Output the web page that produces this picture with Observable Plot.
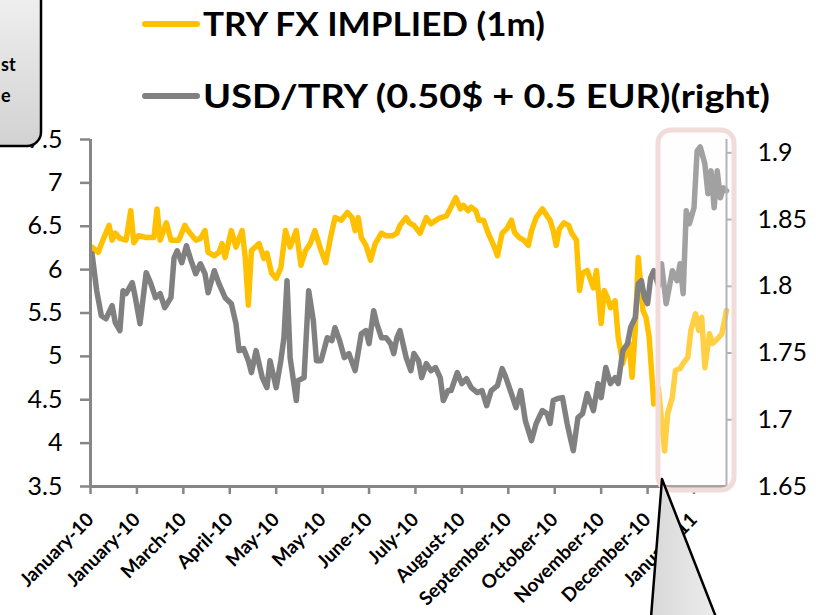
<!DOCTYPE html>
<html>
<head>
<meta charset="utf-8">
<script src="https://cdn.jsdelivr.net/npm/d3@7"></script>
<script src="https://cdn.jsdelivr.net/npm/@observablehq/plot@0.6"></script>
<style>
  body { margin: 0; background: #fff; }
  #wrap { position: relative; width: 816px; height: 615px; overflow: hidden; font-family: Lato, "Open Sans", sans-serif; }
  #chart { position: absolute; left: 0; top: 0; }
  #overlay { position: absolute; left: 0; top: 0; pointer-events: none; }
</style>
</head>
<body>
<div id="wrap">
  <div id="chart"></div>
  <svg id="overlay" width="816" height="615" xmlns="http://www.w3.org/2000/svg"></svg>
</div>
<script>
// ---------------- DATA ----------------
const seriesNames = ["TRY FX IMPLIED (1m)", "USD/TRY (0.50$ + 0.5 EUR)(right)"];

const triDates = [
  "2010-01-02","2010-01-06","2010-01-09","2010-01-13","2010-01-15","2010-01-17","2010-01-20","2010-01-24","2010-01-27","2010-01-29",
  "2010-02-01","2010-02-06","2010-02-11","2010-02-13","2010-02-15","2010-02-19","2010-02-22","2010-02-27","2010-03-03","2010-03-05",
  "2010-03-10","2010-03-13","2010-03-16","2010-03-18","2010-03-22","2010-03-25","2010-03-27","2010-03-29","2010-04-02","2010-04-05",
  "2010-04-09","2010-04-11","2010-04-13","2010-04-15","2010-04-20","2010-04-23","2010-04-25","2010-04-28","2010-05-01","2010-05-04",
  "2010-05-07","2010-05-10","2010-05-14","2010-05-17","2010-05-20","2010-05-23","2010-05-26","2010-05-30","2010-06-02","2010-06-05",
  "2010-06-08","2010-06-12","2010-06-16","2010-06-19","2010-06-21","2010-06-23","2010-06-25","2010-06-28","2010-07-01","2010-07-04",
  "2010-07-08","2010-07-11","2010-07-15","2010-07-18","2010-07-20","2010-07-24","2010-07-26","2010-07-29","2010-08-02","2010-08-06",
  "2010-08-09","2010-08-14","2010-08-19","2010-08-22","2010-08-25","2010-08-28","2010-08-30","2010-09-02","2010-09-04","2010-09-07",
  "2010-09-09","2010-09-12","2010-09-15","2010-09-19","2010-09-21","2010-09-24","2010-09-27","2010-09-30","2010-10-02","2010-10-05",
  "2010-10-08","2010-10-11","2010-10-13","2010-10-16","2010-10-20","2010-10-23","2010-10-25","2010-10-27","2010-10-29","2010-10-31",
  "2010-11-03","2010-11-06","2010-11-08","2010-11-11","2010-11-13","2010-11-15","2010-11-18","2010-11-22","2010-11-24","2010-11-27",
  "2010-11-29","2010-12-01","2010-12-03","2010-12-06","2010-12-08","2010-12-11","2010-12-13","2010-12-15","2010-12-17","2010-12-19",
  "2010-12-21","2010-12-24","2010-12-26","2010-12-28","2010-12-30","2010-12-31","2011-01-03","2011-01-07","2011-01-09","2011-01-12",
  "2011-01-14","2011-01-17","2011-01-19","2011-01-22","2011-01-24","2011-01-27","2011-01-29","2011-01-31","2011-02-02","2011-02-05",
  "2011-02-07","2011-02-09","2011-02-13","2011-02-16"
];
const triValues = [
  6.26,6.20,6.34,6.51,6.34,6.42,6.36,6.34,6.68,6.31,
  6.39,6.37,6.37,6.70,6.34,6.54,6.34,6.34,6.51,6.45,
  6.34,6.36,6.45,6.20,6.16,6.20,6.30,6.14,6.45,6.26,
  6.45,6.14,5.59,6.22,6.30,6.13,6.19,5.96,5.90,6.02,
  6.45,6.26,6.45,6.05,6.22,6.30,6.45,6.22,6.08,6.36,
  6.60,6.57,6.66,6.60,6.45,6.60,6.37,6.28,6.11,6.30,
  6.42,6.39,6.39,6.42,6.51,6.60,6.54,6.51,6.42,6.60,
  6.53,6.59,6.62,6.72,6.83,6.70,6.74,6.68,6.72,6.68,
  6.57,6.57,6.42,6.26,6.16,6.42,6.47,6.57,6.43,6.37,
  6.34,6.28,6.45,6.60,6.70,6.62,6.57,6.45,6.28,6.47,
  6.54,6.51,6.42,6.34,5.76,5.96,5.99,5.79,5.99,5.38,
  5.76,5.68,5.56,5.64,5.22,4.92,5.07,5.15,4.76,5.30,
  6.14,5.53,5.45,5.22,4.72,4.45,4.64,3.91,4.34,4.53,
  4.84,4.86,4.92,4.99,5.30,5.49,5.30,5.45,4.87,5.26,
  5.15,5.18,5.26,5.53
];

const usdDates = [
  "2010-01-02","2010-01-05","2010-01-08","2010-01-11","2010-01-15","2010-01-17","2010-01-20","2010-01-22","2010-01-24","2010-01-28",
  "2010-01-30","2010-02-02","2010-02-06","2010-02-09","2010-02-12","2010-02-15","2010-02-18","2010-02-22","2010-02-24","2010-02-26",
  "2010-03-01","2010-03-04","2010-03-07","2010-03-10","2010-03-13","2010-03-16","2010-03-18","2010-03-22","2010-03-25","2010-03-29",
  "2010-04-02","2010-04-05","2010-04-07","2010-04-10","2010-04-13","2010-04-15","2010-04-18","2010-04-22","2010-04-25","2010-04-27",
  "2010-05-01","2010-05-04","2010-05-06","2010-05-08","2010-05-10","2010-05-14","2010-05-15","2010-05-19","2010-05-22","2010-05-25",
  "2010-05-27","2010-05-30","2010-06-03","2010-06-06","2010-06-08","2010-06-11","2010-06-14","2010-06-17","2010-06-21","2010-06-25",
  "2010-06-28","2010-06-30","2010-07-03","2010-07-05","2010-07-08","2010-07-11","2010-07-14","2010-07-16","2010-07-18","2010-07-20",
  "2010-07-24","2010-07-27","2010-07-29","2010-08-01","2010-08-03","2010-08-06","2010-08-09","2010-08-12","2010-08-15","2010-08-17",
  "2010-08-20","2010-08-22","2010-08-26","2010-08-29","2010-09-01","2010-09-04","2010-09-08","2010-09-11","2010-09-14","2010-09-17",
  "2010-09-21","2010-09-24","2010-09-26","2010-09-30","2010-10-03","2010-10-06","2010-10-09","2010-10-13","2010-10-16","2010-10-20",
  "2010-10-23","2010-10-25","2010-10-27","2010-10-30","2010-11-02","2010-11-05","2010-11-07","2010-11-09","2010-11-12","2010-11-15",
  "2010-11-18","2010-11-22","2010-11-25","2010-11-27","2010-11-30","2010-12-03","2010-12-06","2010-12-08","2010-12-11","2010-12-14",
  "2010-12-16","2010-12-19","2010-12-21","2010-12-23","2010-12-25","2010-12-27","2010-12-29","2010-12-31","2011-01-03","2011-01-05",
  "2011-01-08","2011-01-10","2011-01-12","2011-01-15","2011-01-17","2011-01-19","2011-01-21","2011-01-23","2011-01-26","2011-01-28",
  "2011-01-30","2011-02-02","2011-02-04","2011-02-06","2011-02-08","2011-02-10","2011-02-12","2011-02-14","2011-02-16"
];
const usdValues = [
  1.8244,1.7967,1.7780,1.7757,1.7855,1.7728,1.7668,1.7967,1.7945,1.8027,
  1.7915,1.7720,1.8102,1.8020,1.7915,1.7945,1.7840,1.7915,1.8214,1.8266,
  1.8177,1.8304,1.8192,1.8094,1.8169,1.8094,1.7952,1.8117,1.8020,1.7915,
  1.7870,1.7720,1.7518,1.7533,1.7443,1.7353,1.7518,1.7316,1.7241,1.7443,
  1.7241,1.7443,1.7615,1.8042,1.7466,1.7144,1.7293,1.7316,1.7967,1.7743,
  1.7443,1.7443,1.7615,1.7593,1.7690,1.7593,1.7466,1.7496,1.7368,1.7645,
  1.7668,1.7570,1.7817,1.7720,1.7615,1.7615,1.7570,1.7496,1.7615,1.7668,
  1.7466,1.7368,1.7496,1.7443,1.7316,1.7421,1.7368,1.7391,1.7316,1.7144,
  1.7219,1.7219,1.7353,1.7271,1.7308,1.7241,1.7204,1.7219,1.7106,1.7219,
  1.7256,1.7383,1.7331,1.7196,1.7091,1.7219,1.6994,1.6844,1.6972,1.7069,
  1.7046,1.6972,1.7144,1.7159,1.7166,1.6972,1.6867,1.6769,1.7016,1.7046,
  1.7196,1.7069,1.7271,1.7166,1.7391,1.7271,1.7316,1.7271,1.7518,1.7570,
  1.7690,1.7765,1.8019,1.8042,1.7915,1.7870,1.8064,1.8117,1.8004,1.8169,
  1.7870,1.7989,1.8117,1.8042,1.8169,1.7945,1.8566,1.8469,1.8588,1.9015,
  1.9045,1.8918,1.8693,1.8865,1.8588,1.8865,1.8663,1.8738,1.8716
];

const xStart = "2010-01-01";
const xEnd = "2011-02-16";
const tickDates = [
  "2010-01-01","2010-01-31","2010-03-02","2010-04-01","2010-05-01","2010-05-31","2010-06-30",
  "2010-07-30","2010-08-29","2010-09-28","2010-10-28","2010-11-27","2010-12-27","2011-01-26"
];
const tickLabels = [
  "January-10","January-10","March-10","April-10","May-10","May-10","June-10",
  "July-10","August-10","September-10","October-10","November-10","December-10","January-11"
];
const leftDomain = [3.5, 7.5];
const leftTicks = [3.5, 4, 4.5, 5, 5.5, 6, 6.5, 7, 7.5];
const rightDomain = [1.65, 1.91];
const rightTicks = [1.65, 1.7, 1.75, 1.8, 1.85, 1.9];

// ---------------- BUILD ----------------
const yellow = "#FFC000";
const gray = "#808080";
const axisGray = "#868686";

const toLeft = v => leftDomain[0] + (v - rightDomain[0]) / (rightDomain[1] - rightDomain[0]) * (leftDomain[1] - leftDomain[0]);
const fromLeft = v => rightDomain[0] + (v - leftDomain[0]) / (leftDomain[1] - leftDomain[0]) * (rightDomain[1] - rightDomain[0]);

const tri = triDates.map((d, i) => ({date: new Date(d), v: triValues[i]}));
const usd = usdDates.map((d, i) => ({date: new Date(d), v: usdValues[i], yl: toLeft(usdValues[i])}));
const tickDateObjs = tickDates.map(d => new Date(d));
const labelByTime = new Map(tickDateObjs.map((d, i) => [+d, tickLabels[i]]));

const chart = Plot.plot({
  width: 816,
  height: 615,
  marginLeft: 90,
  marginRight: 90,
  marginTop: 139,
  marginBottom: 129,
  style: {fontFamily: "Lato, 'Open Sans', sans-serif", background: "transparent", color: "#000"},
  x: {type: "utc", domain: [new Date(xStart), new Date(xEnd)]},
  y: {domain: leftDomain},
  marks: [
    Plot.line(tri, {x: "date", y: "v", stroke: yellow, strokeWidth: 5.5}),
    Plot.line(usd, {x: "date", y: "yl", stroke: gray, strokeWidth: 5.5}),
    Plot.ruleX([new Date(xStart)], {stroke: axisGray, strokeWidth: 3}),
    Plot.ruleX([new Date(xEnd)], {stroke: "#9a9a9a", strokeWidth: 2}),
    Plot.ruleY([leftDomain[0]], {stroke: axisGray, strokeWidth: 3}),
    Plot.axisY({ticks: leftTicks, tickFormat: d => String(d), tickSize: 10, tickPadding: 18, fontSize: 25,
      stroke: axisGray, strokeWidth: 2.5, fill: "#000", label: null}),
    Plot.axisY({anchor: "right", ticks: rightTicks.map(toLeft), tickFormat: d => String(+fromLeft(d).toFixed(2)),
      tickSize: 5, tickPadding: 26, fontSize: 25, stroke: "#9a9a9a", strokeWidth: 2, fill: "#000", label: null}),
    Plot.axisX({ticks: tickDateObjs, tickFormat: d => labelByTime.get(+d), tickRotate: -45, tickSize: 8, tickPadding: 22,
      fontSize: 19, fontWeight: "bold", stroke: axisGray, strokeWidth: 2.5, fill: "#000", label: null})
  ]
});
document.getElementById("chart").appendChild(chart);

// ---------------- ANNOTATIONS / LEGEND ----------------
const ov = d3.select("#overlay");
const defs = ov.append("defs");
const g1 = defs.append("linearGradient").attr("id", "boxGrad").attr("x1", 0).attr("y1", 0).attr("x2", 0).attr("y2", 1);
g1.append("stop").attr("offset", "0%").attr("stop-color", "#f4f4f4");
g1.append("stop").attr("offset", "100%").attr("stop-color", "#d2d2d2");
const g2 = defs.append("linearGradient").attr("id", "triGrad").attr("x1", 0).attr("y1", 0).attr("x2", 1).attr("y2", 0);
g2.append("stop").attr("offset", "0%").attr("stop-color", "#d8d8d8");
g2.append("stop").attr("offset", "100%").attr("stop-color", "#eeeeee");

// highlight box
ov.append("rect").attr("x", 658).attr("y", 130).attr("width", 76).attr("height", 360).attr("rx", 13)
  .attr("fill", "rgba(255,250,250,0.27)").attr("stroke", "#f2dcdb").attr("stroke-width", 5);

// callout triangle
ov.append("polygon").attr("points", "662,479 650,630 721,630")
  .attr("fill", "url(#triGrad)").attr("stroke", "#000").attr("stroke-width", 2.5).attr("stroke-linejoin", "round");

// top-left note box
ov.append("rect").attr("x", -30).attr("y", -30).attr("width", 71).attr("height", 176).attr("rx", 14)
  .attr("fill", "url(#boxGrad)").attr("stroke", "#000").attr("stroke-width", 2.5);
ov.append("text").attr("x", 1).attr("y", 71).attr("font-size", 18).attr("font-weight", "bold")
  .attr("font-family", "Lato, sans-serif").text("st");
ov.append("text").attr("x", 1).attr("y", 102).attr("font-size", 18).attr("font-weight", "bold")
  .attr("font-family", "Lato, sans-serif").text("e");

// legend
const legendRows = [
  {color: yellow, y: 24, name: seriesNames[0], width: 342},
  {color: gray, y: 96, name: seriesNames[1], width: 567}
];
legendRows.forEach(r => {
  ov.append("line").attr("x1", 145).attr("x2", 197).attr("y1", r.y).attr("y2", r.y)
    .attr("stroke", r.color).attr("stroke-width", 6).attr("stroke-linecap", "round");
  ov.append("text").attr("x", 203).attr("y", r.y + 12).attr("font-size", 33).attr("font-weight", "bold")
    .attr("font-family", "Lato, sans-serif").attr("fill", "#000")
    .attr("textLength", r.width).attr("lengthAdjust", "spacingAndGlyphs").text(r.name);
});
</script>
</body>
</html>
